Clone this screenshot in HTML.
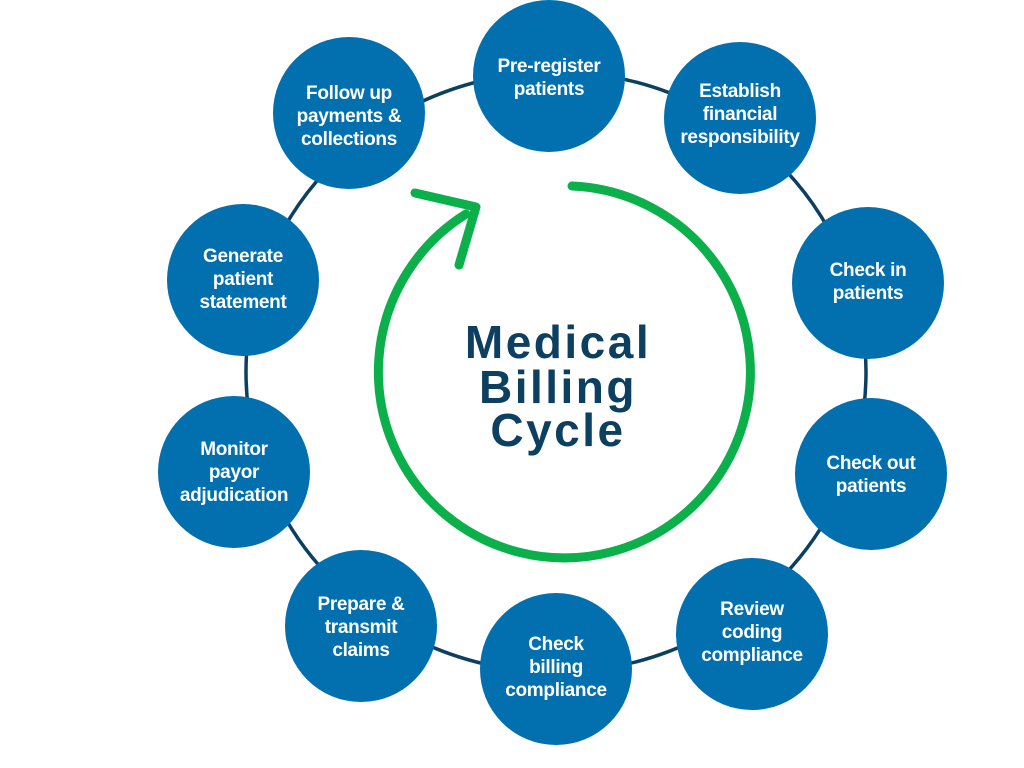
<!DOCTYPE html>
<html><head><meta charset="utf-8"><style>
html,body{margin:0;padding:0;background:#fff;}
svg{display:block}
.c{fill:#0270ae}
.t{fill:#fff;font-family:"Liberation Sans",sans-serif;font-weight:bold;font-size:19px;text-anchor:middle;letter-spacing:-0.3px}
.m{fill:#0d3f61;font-family:"Liberation Sans",sans-serif;font-weight:bold;font-size:46px;text-anchor:middle;letter-spacing:2.5px}
</style></head><body>
<svg width="1024" height="768" viewBox="0 0 1024 768">
<ellipse cx="556" cy="372" rx="310" ry="300" fill="none" stroke="#0d3f61" stroke-width="3.5"/>
<path d="M572 186 A186 186 0 1 1 466 214" fill="none" stroke="#0bb04a" stroke-width="9" stroke-linecap="round"/>
<polyline points="415,193 476,207 459,265" fill="none" stroke="#0bb04a" stroke-width="9" stroke-linecap="round" stroke-linejoin="round"/>
<text class="m" x="558" y="358">Medical</text>
<text class="m" x="558" y="403">Billing</text>
<text class="m" x="558" y="446">Cycle</text>

<circle class="c" cx="549" cy="76" r="76"/>
<text class="t" x="549" y="72">Pre-register</text><text class="t" x="549" y="95">patients</text>

<circle class="c" cx="740" cy="118" r="76"/>
<text class="t" x="740" y="97">Establish</text><text class="t" x="740" y="120">financial</text><text class="t" x="740" y="143">responsibility</text>

<circle class="c" cx="868" cy="283" r="76"/>
<text class="t" x="868" y="276">Check in</text><text class="t" x="868" y="299">patients</text>

<circle class="c" cx="871" cy="474" r="76"/>
<text class="t" x="871" y="469">Check out</text><text class="t" x="871" y="492">patients</text>

<circle class="c" cx="752" cy="634" r="76"/>
<text class="t" x="752" y="615">Review</text><text class="t" x="752" y="638">coding</text><text class="t" x="752" y="661">compliance</text>

<circle class="c" cx="556" cy="669" r="76"/>
<text class="t" x="556" y="650">Check</text><text class="t" x="556" y="673">billing</text><text class="t" x="556" y="696">compliance</text>

<circle class="c" cx="361" cy="626" r="76"/>
<text class="t" x="361" y="610">Prepare &amp;</text><text class="t" x="361" y="633">transmit</text><text class="t" x="361" y="656">claims</text>

<circle class="c" cx="234" cy="472" r="76"/>
<text class="t" x="234" y="455">Monitor</text><text class="t" x="234" y="478">payor</text><text class="t" x="234" y="501">adjudication</text>

<circle class="c" cx="243" cy="280" r="76"/>
<text class="t" x="243" y="262">Generate</text><text class="t" x="243" y="285">patient</text><text class="t" x="243" y="308">statement</text>

<circle class="c" cx="349" cy="113" r="76"/>
<text class="t" x="349" y="99">Follow up</text><text class="t" x="349" y="122">payments &amp;</text><text class="t" x="349" y="145">collections</text>
</svg>
</body></html>
